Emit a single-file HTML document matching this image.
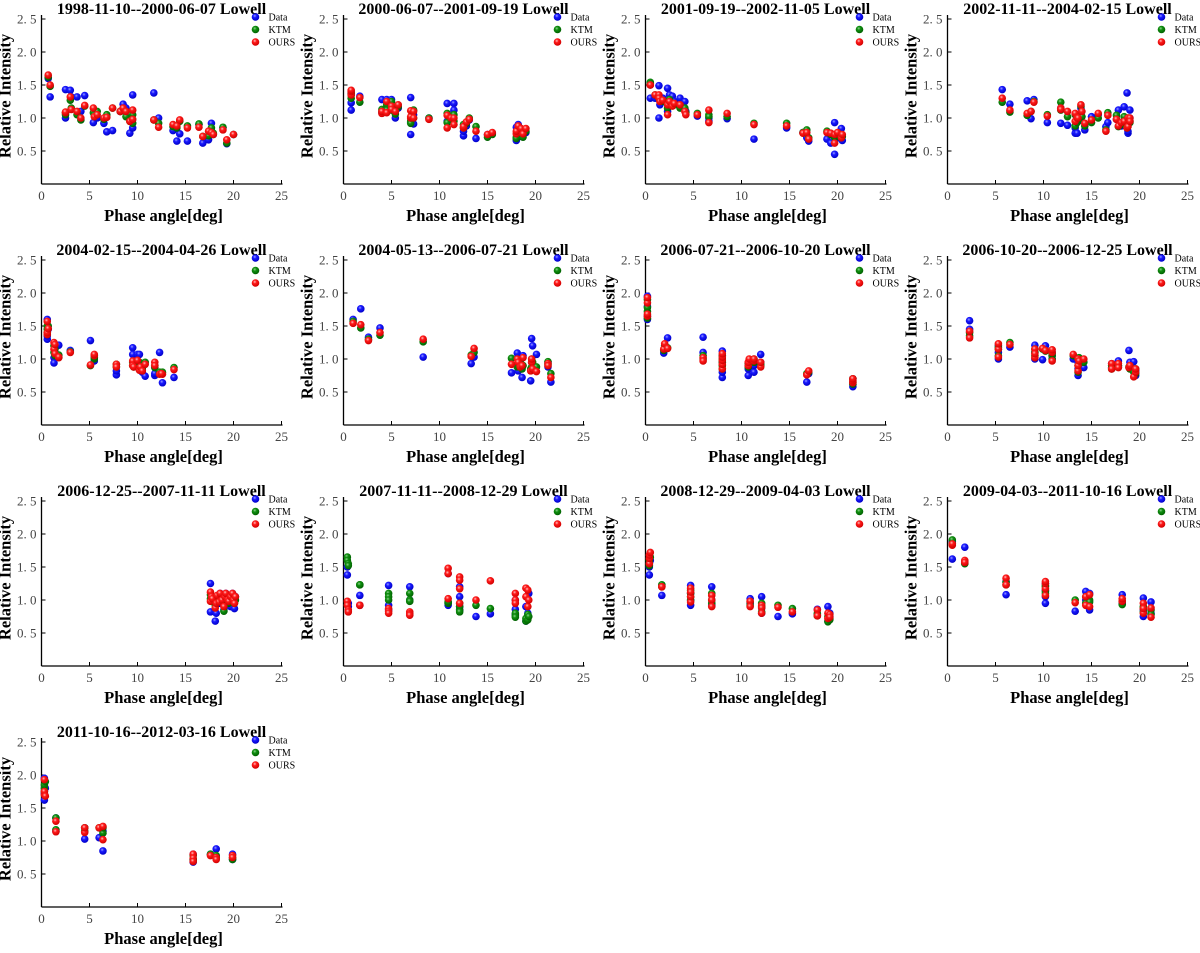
<!DOCTYPE html>
<html><head><meta charset="utf-8">
<style>
html,body{margin:0;padding:0;background:#fff;}
svg text{font-family:"Liberation Serif",serif;}
.tl{font-size:13px;fill:#444;}
.ttl{font-size:16px;font-weight:bold;fill:#000;}
.al{font-size:16.5px;font-weight:bold;fill:#000;}
.lg{font-size:10px;fill:#000;}
</style></head>
<body>
<svg id="fig" width="1200" height="948" viewBox="0 0 1200 948" xmlns="http://www.w3.org/2000/svg">
<defs>
<radialGradient id="gB" cx="0.4" cy="0.35" r="0.65"><stop offset="0" stop-color="#9aa0ff"/><stop offset="0.35" stop-color="#1a1aff"/><stop offset="1" stop-color="#0000c8"/></radialGradient>
<radialGradient id="gG" cx="0.4" cy="0.35" r="0.65"><stop offset="0" stop-color="#8fd08f"/><stop offset="0.35" stop-color="#109010"/><stop offset="1" stop-color="#006000"/></radialGradient>
<radialGradient id="gR" cx="0.4" cy="0.35" r="0.65"><stop offset="0" stop-color="#ffc0c0"/><stop offset="0.35" stop-color="#ff1a1a"/><stop offset="1" stop-color="#d00000"/></radialGradient>
</defs>
</svg>
<script>
const titles=["1998-11-10--2000-06-07 Lowell","2000-06-07--2001-09-19 Lowell","2001-09-19--2002-11-05 Lowell","2002-11-11--2004-02-15 Lowell","2004-02-15--2004-04-26 Lowell","2004-05-13--2006-07-21 Lowell","2006-07-21--2006-10-20 Lowell","2006-10-20--2006-12-25 Lowell","2006-12-25--2007-11-11 Lowell","2007-11-11--2008-12-29 Lowell","2008-12-29--2009-04-03 Lowell","2009-04-03--2011-10-16 Lowell","2011-10-16--2012-03-16 Lowell"];
const xTicks=[0,5,10,15,20,25];
const yTicks=[0.5,1.0,1.5,2.0,2.5];
const yTickLabels=["0. 5","1. 0","1. 5","2. 0","2. 5"];
const seriesNames=["Data","KTM","OURS"];

const phase1=[0.7,0.9,2.5,2.5,3.0,3.1,3.7,4.1,4.5,5.4,5.5,5.8,6.5,6.8,7.4,8.2,8.5,8.8,9.2,9.5,9.5,11.7,12.2,13.7,14.1,14.4,15.2,16.4,16.8,17.4,17.7,17.9,18.9,19.3,20.0];
const data1=[1.6,1.32,1.43,1.0,1.42,1.32,1.32,1.1,1.34,0.93,1.1,1.0,0.92,0.79,0.81,1.1,1.21,1.15,0.77,1.35,0.85,1.38,1.0,0.81,0.65,0.76,0.65,0.9,0.62,0.67,0.92,0.75,0.85,0.61,0.75];
const ktm1=[1.62,1.48,1.05,1.08,1.27,1.15,1.05,0.97,1.18,1.08,1.05,1.1,0.98,1.05,1.15,1.1,1.13,1.02,0.95,1.05,0.92,0.97,0.92,0.87,0.85,0.95,0.88,0.91,0.72,0.73,0.85,0.77,0.86,0.62,0.75];
const ours1=[1.65,1.5,1.08,1.09,1.32,1.13,1.1,1.0,1.19,1.15,1.02,1.05,1.0,1.01,1.15,1.1,1.15,1.1,0.95,1.12,0.98,0.97,0.86,0.9,0.88,0.97,0.85,0.86,0.72,0.8,0.78,0.75,0.82,0.67,0.75];

const phase2=[0.8,0.8,0.8,1.7,4.0,4.0,4.5,4.5,5.0,5.0,5.4,5.7,7.0,7.0,7.0,7.3,7.3,8.9,10.8,10.8,11.2,11.5,11.5,12.5,12.5,12.8,13.1,13.8,15.0,15.5,18.0,18.0,18.2,18.5,18.7,19.0];
const data2=[1.23,1.12,1.37,1.33,1.28,1.08,1.28,1.1,1.28,1.15,1.0,1.15,1.31,0.75,0.93,0.91,1.05,1.0,1.22,0.95,1.0,1.22,1.12,0.73,0.8,0.88,0.97,0.69,0.75,0.77,0.86,0.66,0.9,0.72,0.75,0.78];
const ktm2=[1.3,1.35,1.38,1.24,1.13,1.1,1.2,1.12,1.25,1.12,1.06,1.17,0.95,0.92,1.0,1.12,1.0,1.0,1.07,0.93,1.02,1.05,0.95,0.85,0.9,0.92,1.0,0.87,0.71,0.75,0.71,0.69,0.82,0.77,0.71,0.8];
const ours2=[1.35,1.4,1.42,1.31,1.07,1.1,1.25,1.08,1.18,1.13,1.1,1.2,1.0,1.02,1.11,1.1,1.0,0.98,1.04,0.85,1.0,1.0,0.9,0.85,0.87,0.94,0.98,0.8,0.75,0.78,0.76,0.8,0.88,0.84,0.76,0.84];

const phase3=[0.5,0.5,1.0,1.4,1.4,1.5,1.8,2.3,2.3,2.5,2.8,3.0,3.6,4.1,4.2,5.4,6.6,6.6,8.5,11.3,14.7,16.4,16.8,17.0,18.9,19.3,19.7,19.7,20.0,20.4,20.5];
const data3=[1.3,1.5,1.3,1.49,1.0,1.2,1.3,1.45,1.1,1.35,1.33,1.25,1.3,1.25,1.1,1.03,1.0,0.95,0.99,0.68,0.85,0.78,0.7,0.65,0.68,0.62,0.45,0.93,0.7,0.84,0.66];
const ktm3=[1.54,1.52,1.35,1.3,1.3,1.28,1.25,1.25,1.15,1.28,1.22,1.2,1.15,1.15,1.08,1.07,1.05,1.02,1.02,0.92,0.92,0.78,0.82,0.7,0.8,0.75,0.7,0.72,0.75,0.72,0.72];
const ours3=[1.5,1.5,1.35,1.35,1.3,1.25,1.27,1.2,1.05,1.25,1.18,1.22,1.2,1.1,1.05,1.05,1.12,0.93,1.07,0.9,0.88,0.77,0.78,0.68,0.78,0.77,0.62,0.75,0.78,0.7,0.75];

const phase4=[5.7,6.5,8.3,8.7,9.0,10.4,11.8,11.8,12.5,13.3,13.3,13.5,13.6,13.9,14.0,14.3,15.0,15.7,16.5,16.7,17.6,17.8,18.1,18.4,18.7,18.8,18.8,19.0,19.0];
const data4=[1.43,1.21,1.26,0.99,1.28,0.93,0.92,1.15,0.89,0.77,0.85,0.77,0.95,1.15,1.02,0.82,1.02,1.05,0.87,0.93,0.98,1.12,0.88,1.17,1.38,0.77,0.8,1.12,1.0];
const ktm4=[1.24,1.09,1.04,1.1,1.25,1.05,1.24,1.12,1.02,1.05,0.88,0.93,0.97,1.18,1.02,0.88,0.93,1.0,0.82,1.08,1.04,0.87,0.9,1.02,0.85,0.97,1.0,0.95,0.93];
const ours4=[1.3,1.12,1.07,1.1,1.24,1.03,1.15,1.13,1.1,1.07,0.95,1.0,1.0,1.2,1.1,0.92,0.97,1.07,0.8,1.04,0.98,0.88,0.93,0.95,0.85,1.0,0.87,1.0,0.95];

const phase5=[0.6,0.6,0.6,0.7,1.3,1.3,1.4,1.4,1.8,1.8,3.0,5.1,5.5,5.5,7.8,7.8,9.5,9.5,9.6,10.0,10.2,10.3,10.5,10.8,11.8,11.8,12.3,12.6,12.5,13.8];
const data5=[1.6,1.3,1.35,1.45,1.02,0.94,1.2,1.1,1.21,1.05,1.13,1.28,0.97,1.05,0.76,0.82,1.17,1.07,0.9,1.07,1.07,0.85,0.8,0.74,0.75,0.78,1.1,0.64,0.78,0.72];
const ktm5=[1.5,1.4,1.45,1.5,1.2,1.1,1.15,1.05,1.06,1.03,1.11,0.9,1.0,1.02,0.92,0.88,0.95,0.9,0.88,0.92,0.95,0.85,0.85,0.95,0.87,0.9,0.8,0.8,0.78,0.87];
const ours5=[1.57,1.37,1.4,1.46,1.25,1.15,1.22,1.08,1.02,1.03,1.1,0.91,1.05,1.07,0.92,0.88,0.97,0.9,0.88,0.98,0.83,0.88,0.82,0.92,0.95,0.9,0.77,0.77,0.78,0.84];

const phase6=[1.0,1.8,2.6,3.8,8.3,13.3,13.6,17.5,18.1,18.2,18.4,18.6,18.7,19.5,19.6,19.6,19.7,20.1,21.3,21.6,21.3];
const data6=[1.6,1.76,1.33,1.47,1.03,0.93,1.03,0.79,1.09,0.82,0.95,0.72,1.05,0.67,0.95,1.31,1.2,1.07,0.88,0.65,0.95];
const ktm6=[1.57,1.47,1.3,1.36,1.26,1.06,1.1,1.01,0.88,0.9,0.98,0.85,0.9,0.85,0.88,1.0,0.95,0.88,0.96,0.78,0.92];
const ours6=[1.54,1.52,1.28,1.4,1.3,1.04,1.16,0.92,1.0,0.95,0.88,0.9,1.02,0.82,0.95,1.0,0.85,0.81,0.93,0.72,0.9];

const phase7=[0.2,0.2,0.2,0.2,1.9,2.0,2.3,6.0,6.0,8.0,8.0,8.0,8.0,8.0,10.7,10.7,10.8,11.3,11.3,12.0,12.0,16.8,17.0,21.6,21.6,21.6];
const data7=[1.6,1.65,1.8,1.95,1.09,1.2,1.32,1.33,1.1,0.72,0.8,0.95,1.05,1.12,0.75,0.85,0.95,0.8,0.9,1.07,0.95,0.65,0.78,0.58,0.62,0.7];
const ktm7=[1.62,1.72,1.78,1.9,1.13,1.2,1.17,1.05,1.0,0.85,0.9,0.95,1.0,1.05,0.88,0.93,0.97,0.95,1.0,0.92,0.9,0.78,0.8,0.62,0.65,0.7];
const ours7=[1.65,1.68,1.85,1.93,1.15,1.23,1.16,1.02,0.97,0.85,0.92,0.98,1.03,1.08,0.9,0.95,1.0,0.97,1.0,0.88,0.95,0.76,0.82,0.64,0.67,0.7];

const phase8=[2.3,2.3,5.3,5.3,5.3,6.5,9.1,9.1,9.1,9.9,10.2,10.9,10.9,10.9,13.1,13.6,13.6,13.6,13.7,14.2,17.1,17.1,17.8,17.8,18.9,19.0,19.4,19.6,19.6];
const data8=[1.58,1.45,1.0,1.1,1.2,1.18,1.21,1.0,1.1,0.99,1.2,1.0,1.1,1.05,1.0,0.75,0.85,0.95,1.0,0.87,0.93,0.87,0.97,0.9,1.13,0.95,0.96,0.75,0.82];
const ktm8=[1.35,1.4,1.05,1.18,1.15,1.25,1.15,1.05,1.1,1.15,1.12,1.0,1.05,1.08,1.05,0.8,0.9,1.0,1.02,0.95,0.9,0.85,0.9,0.88,0.88,0.85,0.8,0.78,0.85];
const ours8=[1.32,1.42,1.03,1.15,1.23,1.22,1.15,1.02,1.08,1.16,1.13,0.97,1.1,1.14,1.07,0.82,0.9,1.0,0.97,1.0,0.93,0.85,0.93,0.87,0.87,0.9,0.73,0.8,0.85];

const phase9=[17.6,17.6,17.7,17.8,18.1,18.2,18.3,18.5,18.6,18.8,19.0,19.1,19.2,19.4,19.5,19.7,19.9,20.0,20.1,20.2];
const data9=[1.25,0.82,1.05,1.0,0.68,0.8,1.0,0.95,1.1,1.05,0.85,1.0,1.1,0.95,1.05,0.9,1.1,1.0,0.87,1.05];
const ktm9=[1.08,1.02,1.0,0.98,0.92,0.95,1.05,1.0,1.02,1.05,0.83,0.98,1.0,1.02,0.95,1.0,1.05,0.98,0.95,1.0];
const ours9=[1.12,0.98,1.05,1.02,0.88,0.95,1.07,0.97,1.1,1.0,0.9,1.05,1.1,1.0,0.98,1.05,1.1,1.0,0.95,1.05];

const phase10=[0.4,0.4,0.5,0.5,1.7,1.7,4.7,4.7,4.7,6.9,6.9,6.9,10.9,10.9,10.9,12.1,12.1,12.1,12.1,13.8,15.3,17.9,17.9,17.9,19.0,19.0,19.2,19.2,19.3];
const data10=[1.5,1.38,0.95,0.9,1.07,0.92,1.22,0.92,0.85,1.2,1.0,0.78,0.92,0.95,1.4,1.05,0.85,1.2,0.9,0.75,0.79,0.86,0.78,1.0,0.68,0.9,0.8,0.75,1.1];
const ktm10=[1.65,1.6,1.55,1.52,1.23,1.23,1.1,1.05,1.0,1.1,1.0,0.98,0.97,0.95,0.97,0.95,0.85,0.9,0.82,0.92,0.87,0.76,0.8,0.74,0.68,0.72,0.78,0.7,0.75];
const ours10=[0.98,0.92,0.85,0.82,0.92,0.92,0.87,0.83,0.8,0.82,0.79,0.77,1.48,1.4,1.02,1.35,1.3,1.17,0.95,1.0,1.29,1.1,1.0,0.95,1.18,1.05,1.15,0.9,1.0];

const phase11=[0.4,0.4,0.4,0.5,1.7,1.7,4.7,4.7,4.7,4.7,6.9,6.9,6.9,10.9,10.9,12.1,12.1,12.1,13.8,15.3,17.9,17.9,19.0,19.0,19.2,19.2];
const data11=[1.38,1.5,1.55,1.6,1.07,1.22,1.22,0.92,1.0,1.1,1.2,1.0,0.92,1.02,0.95,1.05,0.88,0.8,0.75,0.79,0.86,0.78,0.68,0.9,0.8,0.75];
const ktm11=[1.52,1.55,1.6,1.65,1.23,1.2,1.05,1.0,1.15,1.1,1.1,1.0,0.95,0.97,0.92,0.95,0.9,0.82,0.92,0.87,0.8,0.76,0.67,0.75,0.72,0.7];
const ours11=[1.55,1.63,1.68,1.72,1.2,1.2,1.18,0.97,1.05,1.12,1.07,1.0,0.9,0.98,0.9,0.92,0.88,0.8,0.89,0.82,0.85,0.76,0.72,0.8,0.78,0.74];

const phase12=[0.5,0.5,1.8,1.8,6.1,6.1,10.2,10.2,10.2,10.2,13.3,14.4,14.4,14.8,14.8,18.2,18.2,20.4,20.4,20.4,21.2,21.2];
const data12=[1.62,1.88,1.8,1.58,1.08,1.28,0.95,1.05,1.15,1.25,0.83,1.13,1.0,1.1,0.85,1.08,0.95,1.03,0.75,0.85,0.97,0.8];
const ktm12=[1.91,1.85,1.56,1.55,1.27,1.23,1.13,1.1,1.2,1.22,1.0,1.05,0.95,1.0,0.97,0.93,0.98,0.9,0.82,0.88,0.85,0.78];
const ours12=[1.83,1.85,1.6,1.57,1.33,1.23,1.07,1.17,1.25,1.28,0.96,1.05,0.92,1.08,0.9,0.98,1.02,0.95,0.8,0.87,0.88,0.74];

const phase13=[0.3,0.3,0.3,0.4,1.5,1.5,4.5,4.5,6.0,6.4,6.4,15.8,15.8,15.8,17.6,18.2,18.2,19.9,19.9];
const data13=[1.62,1.95,1.72,1.8,1.35,1.15,1.03,1.2,1.05,0.85,1.15,0.8,0.72,0.68,0.8,0.88,0.75,0.8,0.72];
const ktm13=[1.8,1.85,1.75,1.9,1.35,1.17,1.15,1.2,1.2,1.12,1.2,0.78,0.72,0.7,0.8,0.78,0.75,0.75,0.72];
const ours13=[1.7,1.93,1.75,1.68,1.3,1.14,1.13,1.2,1.2,1.02,1.22,0.8,0.74,0.69,0.78,0.75,0.72,0.78,0.75];

const phases=[phase1,phase2,phase3,phase4,phase5,phase6,phase7,phase8,phase9,phase10,phase11,phase12,phase13];
const dataS=[data1,data2,data3,data4,data5,data6,data7,data8,data9,data10,data11,data12,data13];
const ktmS=[ktm1,ktm2,ktm3,ktm4,ktm5,ktm6,ktm7,ktm8,ktm9,ktm10,ktm11,ktm12,ktm13];
const oursS=[ours1,ours2,ours3,ours4,ours5,ours6,ours7,ours8,ours9,ours10,ours11,ours12,ours13];

const NS="http://www.w3.org/2000/svg";
const svg=document.getElementById('fig');
const colX=[41.5,343.5,645.5,947.5], rowY=[184,425,666,907];
const XPX=240/25, YPX=66;
const fills=["url(#gB)","url(#gG)","url(#gR)"];
function mk(tag,attrs,parent){const e=document.createElementNS(NS,tag);for(const k in attrs)e.setAttribute(k,attrs[k]);parent.appendChild(e);return e;}

titles.forEach((t,i)=>{
  const ox=colX[i%4], oy=rowY[Math.floor(i/4)];
  const sx=v=>ox+v*XPX, sy=v=>oy-v*YPX;
  const g=mk('g',{},svg);
  
  
  const tt=mk('text',{x:ox+120,y:oy-170,'text-anchor':'middle',class:'ttl'},g);tt.textContent=t;
  
  
  const ya=mk('line',{x1:ox,y1:oy,x2:ox,y2:oy-169,stroke:'#000','stroke-width':1.3},g);
  
  
  const xa=mk('line',{x1:ox,y1:oy,x2:ox+241,y2:oy,stroke:'#000','stroke-width':1.3},g);
  
  
  xTicks.forEach(v=>{
    mk('line',{x1:sx(v),y1:oy,x2:sx(v),y2:oy-4,stroke:'#000','stroke-width':1},g);
    const l=mk('text',{x:sx(v),y:oy+16,'text-anchor':'middle',class:'tl'},g);l.textContent=v;
    
    
  });
  yTicks.forEach((v,k)=>{
    mk('line',{x1:ox,y1:sy(v),x2:ox+4,y2:sy(v),stroke:'#000','stroke-width':1},g);
    const l=mk('text',{x:ox-5,y:sy(v)+4.5,'text-anchor':'end',class:'tl'},g);l.textContent=yTickLabels[k];
    
    
  });
  const yl=mk('text',{x:0,y:0,'text-anchor':'middle',class:'al',transform:`translate(${ox-31},${oy-88}) rotate(-90)`},g);yl.textContent='Relative Intensity';
  
  
  const xl=mk('text',{x:ox+122,y:oy+37,'text-anchor':'middle',class:'al'},g);xl.textContent='Phase angle[deg]';
  
  
  const series=[dataS[i],ktmS[i],oursS[i]];
  series.forEach((arr,s)=>{
    arr.forEach((v,j)=>{
      const c=mk('circle',{cx:sx(phases[i][j]),cy:sy(v),r:3.8,fill:fills[s]},g);
      
      
    });
  });
  seriesNames.forEach((n,s)=>{
    const ly=oy-167+s*12.5;
    const m=mk('circle',{cx:ox+214,cy:ly,r:3.8,fill:fills[s]},g);
    
    
    const lt=mk('text',{x:ox+227,y:ly+3.5,class:'lg'},g);lt.textContent=n;
    
    
  });
});
</script>
</body></html>
